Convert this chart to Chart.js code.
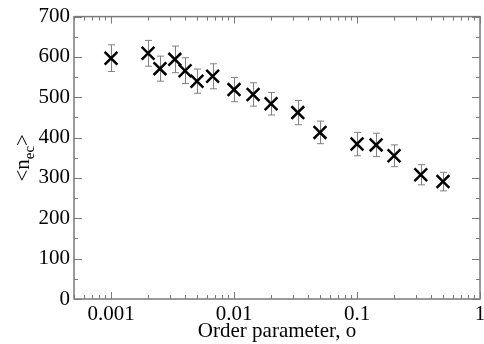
<!DOCTYPE html>
<html>
<head>
<meta charset="utf-8">
<style>
html,body{margin:0;padding:0;background:#fff;}
#wrap{width:484px;height:344px;position:relative;}
</style>
<script src="https://cdn.jsdelivr.net/npm/chart.js@4/dist/chart.umd.min.js"></script>
</head>
<body>
<div id="wrap"><canvas id="c" width="484" height="344"></canvas></div>
<script>
// Data
const orderParam = [0.001, 0.002, 0.0025, 0.0033, 0.004, 0.005, 0.0067, 0.01, 0.0143, 0.02, 0.033, 0.05, 0.1, 0.143, 0.2, 0.33, 0.5];
const meanNec    = [597, 609, 571, 594, 566, 540, 552, 519, 507, 484, 462, 413, 384, 382, 355, 308, 291];
const errNec     = [33, 32, 31, 33, 32, 30, 31, 30, 29, 28, 30, 28, 29, 29, 27, 25, 23];
const xTickValues = [0.001, 0.01, 0.1, 1];
const xTickLabels = ['0.001', '0.01', '0.1', '1'];
const yTickValues = [0, 100, 200, 300, 400, 500, 600, 700];
const xTitle = 'Order parameter, o';
const yTitleMain = '<n';
const yTitleSub = 'ec';
const yTitleEnd = '>';

const FONT = "'Liberation Serif', 'Times New Roman', serif";
const AXIS_COLOR = '#7a7a7a';

const points = orderParam.map((x, i) => ({x: x, y: meanNec[i]}));

const errorBarPlugin = {
  id: 'errorBars',
  beforeDatasetsDraw(chart) {
    const ctx = chart.ctx, xs = chart.scales.x, ys = chart.scales.y;
    ctx.save();
    ctx.strokeStyle = '#808080';
    ctx.lineWidth = 1;
    orderParam.forEach((x, i) => {
      const px = Math.round(xs.getPixelForValue(x)) + 0.5;
      const pt = ys.getPixelForValue(meanNec[i] + errNec[i]);
      const pb = ys.getPixelForValue(meanNec[i] - errNec[i]);
      ctx.beginPath();
      ctx.moveTo(px, pt); ctx.lineTo(px, pb);
      ctx.moveTo(px - 3.5, pt); ctx.lineTo(px + 3.5, pt);
      ctx.moveTo(px - 3.5, pb); ctx.lineTo(px + 3.5, pb);
      ctx.stroke();
    });
    ctx.restore();
  }
};

const frameTicksPlugin = {
  id: 'frameTicks',
  afterDraw(chart) {
    const ctx = chart.ctx, xs = chart.scales.x, ys = chart.scales.y, a = chart.chartArea;
    ctx.save();
    ctx.strokeStyle = AXIS_COLOR;
    ctx.lineWidth = 1.5;
    ctx.strokeRect(a.left, a.top, a.right - a.left, a.bottom - a.top);
    ctx.lineWidth = 1;
    ctx.beginPath();
    for (let e = -4; e <= 0; e++) {
      for (let m = 1; m <= 9; m++) {
        const v = m * Math.pow(10, e);
        if (v < xs.min - 1e-12 || v > xs.max + 1e-12) continue;
        const px = Math.round(xs.getPixelForValue(v)) + 0.5;
        const len = (m === 1) ? 7 : 4;
        ctx.moveTo(px, a.bottom); ctx.lineTo(px, a.bottom - len);
        ctx.moveTo(px, a.top); ctx.lineTo(px, a.top + len);
      }
    }
    for (let v = 0; v <= 700; v += 50) {
      const py = Math.round(ys.getPixelForValue(v)) + 0.5;
      const len = (v % 100 === 0) ? 8 : 4;
      ctx.moveTo(a.left, py); ctx.lineTo(a.left + len, py);
      ctx.moveTo(a.right, py); ctx.lineTo(a.right - len, py);
    }
    ctx.stroke();

    ctx.fillStyle = '#000';
    ctx.translate(23, (a.top + a.bottom) / 2);
    ctx.rotate(-Math.PI / 2);
    ctx.textBaseline = 'middle';
    const big = '21px ' + FONT, small = '15px ' + FONT;
    ctx.font = big;
    const w1 = ctx.measureText(yTitleMain).width;
    const w3 = ctx.measureText(yTitleEnd).width;
    ctx.font = small;
    const w2 = ctx.measureText(yTitleSub).width;
    let x0 = -(w1 + w2 + w3) / 2;
    ctx.font = big;
    ctx.fillText(yTitleMain, x0, 0);
    ctx.font = small;
    ctx.fillText(yTitleSub, x0 + w1, 7);
    ctx.font = big;
    ctx.fillText(yTitleEnd, x0 + w1 + w2, 0);
    ctx.restore();
  }
};

new Chart(document.getElementById('c'), {
  type: 'scatter',
  data: {
    datasets: [{
      data: points,
      pointStyle: 'crossRot',
      pointRadius: 9,
      pointHoverRadius: 9,
      pointBorderWidth: 2.5,
      borderColor: '#000',
      backgroundColor: '#000',
      showLine: false
    }]
  },
  options: {
    responsive: false,
    animation: false,
    devicePixelRatio: 1,
    layout: {autoPadding: false, padding: {top: 15, right: 4, left: 0, bottom: 0}},
    plugins: {legend: {display: false}, tooltip: {enabled: false}},
    scales: {
      x: {
        type: 'logarithmic',
        min: 0.0005,
        max: 1,
        afterBuildTicks(scale) { scale.ticks = xTickValues.map(v => ({value: v})); },
        afterFit(scale) { scale.height = 45; scale.paddingRight = 0; scale.paddingLeft = 0; },
        grid: {display: false, drawTicks: false},
        border: {display: false},
        ticks: {
          font: {family: FONT, size: 21},
          color: '#000',
          padding: 3,
          maxRotation: 0,
          autoSkip: false,
          callback(v) { const i = xTickValues.indexOf(v); return i >= 0 ? xTickLabels[i] : ''; }
        },
        title: {display: true, text: xTitle, font: {family: FONT, size: 21}, color: '#000', padding: {top: 0, bottom: 0}}
      },
      y: {
        min: 0,
        max: 700,
        afterBuildTicks(scale) { scale.ticks = yTickValues.map(v => ({value: v})); },
        afterFit(scale) { scale.width = 74; },
        grid: {display: false, drawTicks: false},
        border: {display: false},
        ticks: {font: {family: FONT, size: 21}, color: '#000', padding: 4}
      }
    }
  },
  plugins: [errorBarPlugin, frameTicksPlugin]
});
</script>
</body>
</html>
